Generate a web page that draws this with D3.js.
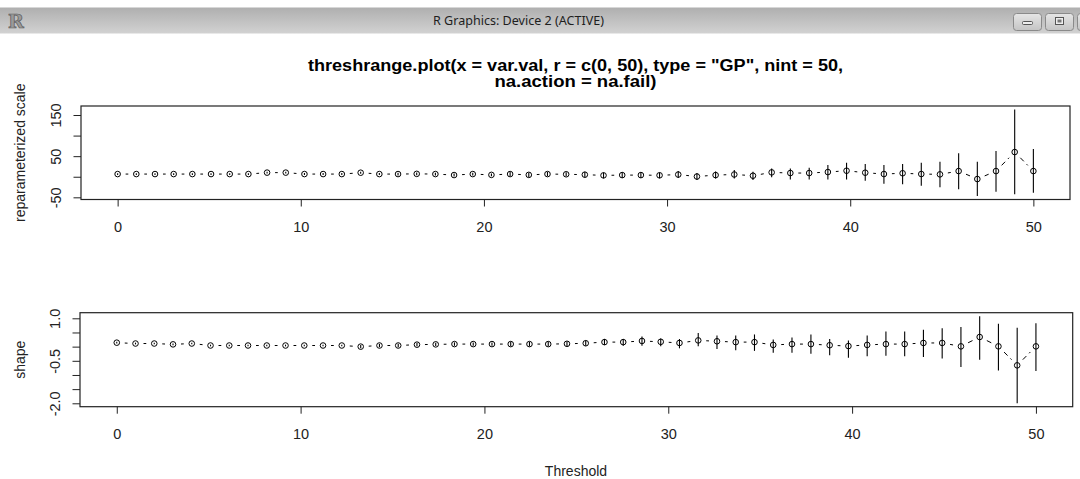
<!DOCTYPE html>
<html lang="en">
<head>
    <meta charset="UTF-8">
    <title>threshrange.plot</title>
    <script src="https://d3js.org/d3.v7.min.js"></script>
    <style>
        body { margin: 0; background: #fff; }
        svg { display: block; font-family: "Liberation Sans", Arial, sans-serif; }
        .tick text { font-size: 14.5px; fill: #222; }
    </style>
</head>
<body>
    <svg width="1080" height="479"></svg>
    <script>
        // thresholds (seq(0, 50, length = 50))
        const thresholds = [0, 1.02, 2.04, 3.06, 4.08, 5.10, 6.12, 7.14, 8.16, 9.18,
            10.20, 11.22, 12.24, 13.27, 14.29, 15.31, 16.33, 17.35, 18.37, 19.39,
            20.41, 21.43, 22.45, 23.47, 24.49, 25.51, 26.53, 27.55, 28.57, 29.59,
            30.61, 31.63, 32.65, 33.67, 34.69, 35.71, 36.73, 37.76, 38.78, 39.80,
            40.82, 41.84, 42.86, 43.88, 44.90, 45.92, 46.94, 47.96, 48.98, 50];

        // reparameterized scale: estimate and CI
        const scaleEst = [6.5, 6.5, 6.5, 6.5, 6.5, 6.5, 6.5, 6.5, 10, 10,
            6.5, 6.5, 6.5, 9.8, 6.5, 6.5, 7, 6.5, 4.1, 6.5,
            4.5, 6.5, 4.5, 6.5, 6, 5, 3.3, 4, 4, 3.5,
            5.3, 0.5, 4, 5.5, 2.5, 10.6, 9, 9, 11.4, 14.6,
            9.8, 6.6, 8.5, 6.6, 5.8, 13.8, -5.6, 13.8, 60, 13.8];
        const scaleLow = [4.5, 4.5, 4.5, 4.5, 4.5, 4.5, 4.5, 4.5, 8, 8,
            4, 4, 4, 7.3, 4, 3, 3.5, 3, 0.6, 3,
            1, 1.5, -0.5, 1.5, 1, -2, -3.7, -3, -3, -3.5,
            -3.2, -8, -4.5, -4, -8, -1.5, -6.4, -6.4, -6.4, -6.4,
            -9.7, -17, -18.5, -21.8, -25.7, -30.6, -47, -36.4, -42.7, -38.8];
        const scaleHigh = [8.5, 8.5, 8.5, 8.5, 8.5, 8.5, 8.5, 8.5, 12, 12,
            9, 9, 9, 12.3, 9, 10, 10.5, 10, 7.6, 10,
            8, 11.5, 9.5, 11.5, 11, 12, 10.3, 11, 11, 10.5,
            13.8, 9, 12.5, 16.3, 12.1, 20.2, 20.2, 21.8, 28.4, 34,
            30.8, 28.4, 30.8, 34, 36.4, 56.8, 36.4, 62.4, 163.5, 67.3];

        // shape: estimate and CI
        const shapeEst = [0.14, 0.11, 0.11, 0.08, 0.11, 0.04, 0.04, 0.04, 0.04, 0.04,
            0.04, 0.04, 0.04, 0.0, 0.04, 0.04, 0.07, 0.08, 0.09, 0.09,
            0.09, 0.09, 0.09, 0.09, 0.1, 0.12, 0.16, 0.16, 0.2, 0.17,
            0.13, 0.22, 0.19, 0.16, 0.16, 0.06, 0.09, 0.09, 0.05, 0.02,
            0.06, 0.09, 0.09, 0.13, 0.13, 0.01, 0.34, 0.01, -0.66, 0.01];
        const shapeLow = [0.11, 0.08, 0.08, 0.05, 0.08, 0.01, 0.01, 0.01, 0.01, 0.01,
            0.01, 0.01, 0.01, -0.06, -0.02, -0.02, 0.01, 0.02, 0.03, 0.03,
            0.03, 0.01, 0.01, 0.01, 0.02, 0.03, 0.06, 0.03, 0.03, 0.01,
            -0.06, 0.01, -0.08, -0.13, -0.15, -0.22, -0.22, -0.25, -0.3, -0.39,
            -0.34, -0.32, -0.34, -0.37, -0.42, -0.72, -0.46, -0.84, -2.0, -0.86];
        const shapeHigh = [0.17, 0.14, 0.14, 0.11, 0.14, 0.07, 0.07, 0.07, 0.07, 0.07,
            0.07, 0.07, 0.07, 0.06, 0.1, 0.1, 0.13, 0.14, 0.15, 0.15,
            0.15, 0.17, 0.17, 0.17, 0.18, 0.22, 0.27, 0.27, 0.36, 0.29,
            0.27, 0.48, 0.39, 0.39, 0.43, 0.25, 0.32, 0.43, 0.27, 0.22,
            0.39, 0.53, 0.53, 0.6, 0.65, 0.69, 1.07, 0.81, 0.67, 0.83];

        // ticks and labels
        const xTicks = [0, 10, 20, 30, 40, 50];
        const scaleTicks = [-50, 0, 50, 100, 150];
        const scaleTickLabels = ["-50", "", "50", "", "150"];
        const shapeTicks = [-2, -1.5, -1, -0.5, 0, 0.5, 1];
        const shapeTickLabels = ["-2.0", "", "", "-0.5", "", "", "1.0"];

        const titleLines = ['threshrange.plot(x = var.val, r = c(0, 50), type = "GP", nint = 50,',
            'na.action = na.fail)'];
        const titleWidths = [535, 162];

        const svg = d3.select("svg");

        // ---- window title bar ----
        const grad = svg.append("defs").append("linearGradient")
            .attr("id", "bar").attr("x1", 0).attr("x2", 0).attr("y1", 0).attr("y2", 1);
        grad.append("stop").attr("offset", "0%").attr("stop-color", "#afafaf");
        grad.append("stop").attr("offset", "100%").attr("stop-color", "#d2d2d2");
        const btnGrad = svg.select("defs").append("linearGradient")
            .attr("id", "btn").attr("x1", 0).attr("x2", 0).attr("y1", 0).attr("y2", 1);
        btnGrad.append("stop").attr("offset", "0%").attr("stop-color", "#e6e6e6");
        btnGrad.append("stop").attr("offset", "100%").attr("stop-color", "#c4c4c4");

        svg.append("rect").attr("x", 0).attr("y", 7.5).attr("width", 1080).attr("height", 26)
            .attr("fill", "url(#bar)");
        svg.append("text").attr("x", 8).attr("y", 28)
            .attr("font-family", "DejaVu Serif").attr("font-weight", "bold").attr("font-size", 19)
            .attr("fill", "#9a9a9a").attr("stroke", "#5a5a5a").attr("stroke-width", 0.7)
            .text("R");
        svg.append("text").attr("x", 433).attr("y", 25)
            .attr("font-family", "Noto Sans").attr("font-size", 12.5).attr("fill", "#1e1e1e")
            .attr("textLength", 171).attr("lengthAdjust", "spacingAndGlyphs")
            .text("R Graphics: Device 2 (ACTIVE)");
        [1013, 1045, 1077].forEach((bx, i) => {
            svg.append("rect").attr("x", bx + 0.5).attr("y", 13.5).attr("width", 28).attr("height", 17)
                .attr("rx", 3).attr("fill", "url(#btn)").attr("stroke", "#8a8a8a");
            if (i === 0) {
                svg.append("rect").attr("x", bx + 9.5).attr("y", 21.5).attr("width", 10).attr("height", 3)
                    .attr("rx", 1).attr("fill", "#eee").attr("stroke", "#555");
            } else if (i === 1) {
                svg.append("rect").attr("x", bx + 10.5).attr("y", 17.5).attr("width", 8).attr("height", 7)
                    .attr("fill", "#eee").attr("stroke", "#555");
                svg.append("rect").attr("x", bx + 12.5).attr("y", 19.5).attr("width", 4).attr("height", 3)
                    .attr("fill", "#777");
            }
        });

        // ---- title ----
        svg.append("g").selectAll("text")
            .data(titleLines)
            .enter().append("text")
            .attr("x", 575.5)
            .attr("y", (d, i) => 71 + i * 16)
            .attr("text-anchor", "middle")
            .attr("font-weight", "bold")
            .attr("font-size", 16)
            .attr("textLength", (d, i) => titleWidths[i])
            .attr("lengthAdjust", "spacingAndGlyphs")
            .attr("fill", "#000")
            .text(d => d);

        function drawPanel(p) {
            const x = d3.scaleLinear().domain([-2, 52]).range([p.left, p.right]);
            const y = d3.scaleLinear().domain(p.yDomain).range([p.bottom, p.top]);
            const g = svg.append("g");

            const pts = thresholds.map((t, i) => ({ t: t, est: p.est[i], lo: p.lo[i], hi: p.hi[i] }));

            // dashed connector with gaps round the points (type = "b")
            const gap = 8;
            for (let i = 1; i < pts.length; i++) {
                const x0 = x(pts[i - 1].t), y0 = y(pts[i - 1].est);
                const x1 = x(pts[i].t), y1 = y(pts[i].est);
                const len = Math.hypot(x1 - x0, y1 - y0);
                if (len <= 2 * gap) continue;
                const ux = (x1 - x0) / len, uy = (y1 - y0) / len;
                g.append("line")
                    .attr("x1", x0 + ux * gap).attr("y1", y0 + uy * gap)
                    .attr("x2", x1 - ux * gap).attr("y2", y1 - uy * gap)
                    .attr("stroke", "#000").attr("stroke-width", 1)
                    .attr("stroke-dasharray", "5,4");
            }

            // confidence intervals
            g.selectAll(".ci")
                .data(pts)
                .enter().append("line")
                .attr("class", "ci")
                .attr("x1", d => x(d.t)).attr("x2", d => x(d.t))
                .attr("y1", d => y(d.lo)).attr("y2", d => y(d.hi))
                .attr("stroke", "#000").attr("stroke-width", 1.1);

            g.selectAll(".pt")
                .data(pts)
                .enter().append("circle")
                .attr("class", "pt")
                .attr("cx", d => x(d.t))
                .attr("cy", d => y(d.est))
                .attr("r", 2.8)
                .attr("fill", "none")
                .attr("stroke", "#000")
                .attr("stroke-width", 1);

            // box
            g.append("rect")
                .attr("x", p.left).attr("y", p.top)
                .attr("width", p.right - p.left).attr("height", p.bottom - p.top)
                .attr("fill", "none").attr("stroke", "#222").attr("stroke-width", 1.2);

            const xa = g.append("g")
                .attr("transform", `translate(0, ${p.bottom})`)
                .call(d3.axisBottom(x).tickValues(xTicks).tickFormat(d3.format("d"))
                    .tickSize(7).tickSizeOuter(0).tickPadding(15));
            xa.select(".domain").remove();
            xa.selectAll("line").attr("stroke", "#222");

            const ya = g.append("g")
                .attr("transform", `translate(${p.left}, 0)`)
                .call(d3.axisLeft(y).tickValues(p.ticks)
                    .tickFormat((d, i) => p.tickLabels[i])
                    .tickSize(7.5).tickSizeOuter(0));
            ya.select(".domain").remove();
            ya.selectAll("line").attr("stroke", "#222");
            ya.selectAll("text")
                .attr("x", 0).attr("dy", 0)
                .attr("text-anchor", "middle")
                .attr("transform", "translate(-20.5, 0) rotate(-90)");

            svg.append("text")
                .attr("transform", `translate(25, ${(p.top + p.bottom) / 2}) rotate(-90)`)
                .attr("text-anchor", "middle")
                .attr("font-size", 14)
                .attr("fill", "#222")
                .text(p.label);
        }

        drawPanel({
            left: 81, right: 1070, top: 106, bottom: 199.5,
            yDomain: [-55.3, 171.9],
            est: scaleEst, lo: scaleLow, hi: scaleHigh,
            ticks: scaleTicks, tickLabels: scaleTickLabels,
            label: "reparameterized scale"
        });

        drawPanel({
            left: 80, right: 1072.7, top: 312.7, bottom: 406.7,
            yDomain: [-2.12, 1.198],
            est: shapeEst, lo: shapeLow, hi: shapeHigh,
            ticks: shapeTicks, tickLabels: shapeTickLabels,
            label: "shape"
        });

        svg.append("text")
            .attr("x", 576)
            .attr("y", 476)
            .attr("text-anchor", "middle")
            .attr("font-size", 14)
            .attr("fill", "#222")
            .text("Threshold");
    </script>
</body>
</html>
